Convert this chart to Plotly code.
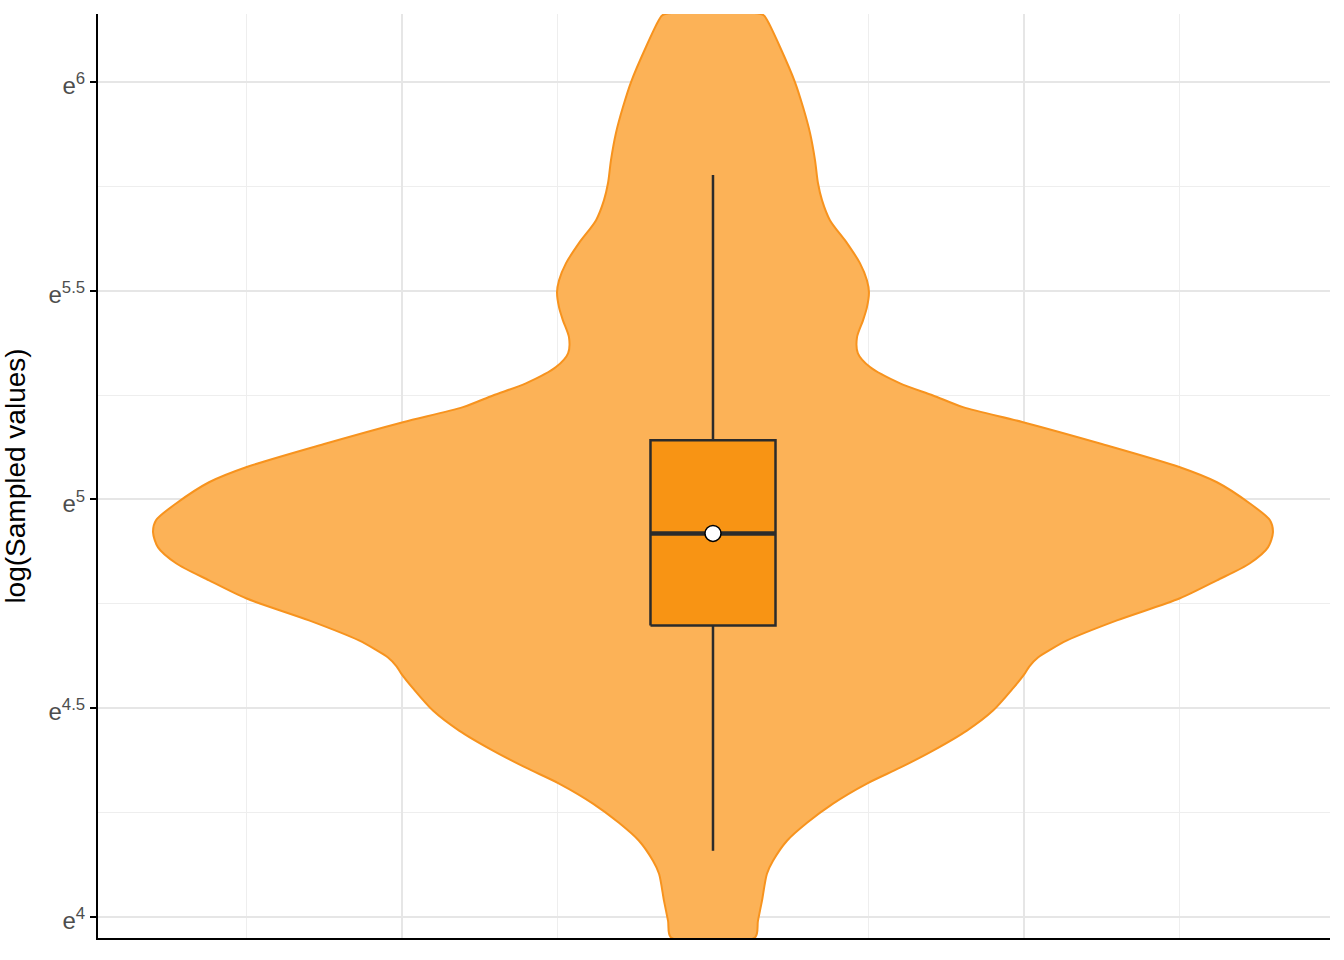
import plotly.graph_objects as go

# Violin outline: natural-log value and half-width (density, x units)
log_values = [6.161, 6.149, 6.084, 6.000, 5.940, 5.878, 5.813, 5.758, 5.717, 5.669,
              5.614, 5.566, 5.525, 5.496, 5.460, 5.429, 5.388, 5.350, 5.317, 5.278,
              5.249, 5.221, 5.185, 5.134, 5.077, 5.041, 4.990, 4.950, 4.921, 4.885,
              4.847, 4.806, 4.763, 4.710, 4.662, 4.640, 4.621, 4.600, 4.583, 4.547,
              4.494, 4.446, 4.398, 4.357, 4.319, 4.271, 4.225, 4.182, 4.134, 4.103,
              4.038, 3.990, 3.950]
density = [0.322, 0.347, 0.431, 0.527, 0.579, 0.624, 0.656, 0.675, 0.701, 0.752,
           0.862, 0.945, 0.990, 1.003, 0.990, 0.965, 0.926, 0.932, 1.010, 1.203,
           1.415, 1.608, 1.994, 2.489, 3.003, 3.241, 3.453, 3.582, 3.601, 3.569,
           3.453, 3.241, 3.003, 2.598, 2.277, 2.170, 2.090, 2.035, 2.006, 1.929,
           1.801, 1.633, 1.415, 1.203, 0.990, 0.772, 0.605, 0.476, 0.386, 0.347,
           0.315, 0.289, 0.270]

# Box statistics (natural-log units)
q1 = 4.698
median = 4.9185
q3 = 5.1415
lower_whisker = 4.158
upper_whisker = 5.777
mean_value = 4.9185

tick_vals = [4, 4.5, 5, 5.5, 6]
tick_text = ["e<sup>4</sup>", "e<sup>4.5</sup>", "e<sup>5</sup>", "e<sup>5.5</sup>", "e<sup>6</sup>"]

box_half = 0.402
box_line = "#2b2b2b"

fig = go.Figure()

# violin body (right side down, left side up)
vx = density + [-d for d in density[::-1]] + [density[0]]
vy = log_values + log_values[::-1] + [log_values[0]]
fig.add_trace(go.Scatter(
    x=vx, y=vy, mode="lines", fill="toself",
    fillcolor="#FCB257", line=dict(color="#F7931E", width=2, shape="spline", smoothing=0.8),
    hoverinfo="skip", showlegend=False,
))

# whiskers
fig.add_trace(go.Scatter(
    x=[0, 0, None, 0, 0], y=[q3, upper_whisker, None, lower_whisker, q1], mode="lines",
    line=dict(color=box_line, width=2.5), showlegend=False, hoverinfo="skip",
))

# box
fig.add_trace(go.Scatter(
    x=[-box_half, box_half, box_half, -box_half, -box_half],
    y=[q1, q1, q3, q3, q1], mode="lines", fill="toself",
    fillcolor="#F89414", line=dict(color=box_line, width=2.5),
    showlegend=False, hoverinfo="skip",
))

# median
fig.add_trace(go.Scatter(
    x=[-box_half, box_half], y=[median, median], mode="lines",
    line=dict(color=box_line, width=4.5), showlegend=False, hoverinfo="skip",
))

# mean
fig.add_trace(go.Scatter(
    x=[0], y=[mean_value], mode="markers",
    marker=dict(color="white", size=16, line=dict(color="black", width=1.5)),
    showlegend=False,
))

fig.update_layout(
    width=1344, height=960,
    margin=dict(l=98, r=14, t=14, b=22),
    paper_bgcolor="white", plot_bgcolor="white",
    font=dict(family="Liberation Sans, Arial, sans-serif"),
    xaxis=dict(
        range=[-3.955, 3.968], showticklabels=False, ticks="",
        tick0=0, dtick=2, showgrid=True, gridcolor="#e6e6e6", gridwidth=2,
        minor=dict(dtick=1, showgrid=True, gridcolor="#eeeeee", gridwidth=1),
        showline=True, linecolor="black", linewidth=2, zeroline=False,
    ),
    yaxis=dict(
        range=[3.949, 6.163], tickvals=tick_vals, ticktext=tick_text,
        ticks="outside", ticklen=6, tickwidth=2, tickcolor="black",
        tickfont=dict(size=24, color="#4d4d4d"), ticklabelshift=4,
        showgrid=True, gridcolor="#e6e6e6", gridwidth=2,
        minor=dict(tickvals=[4.25, 4.75, 5.25, 5.75], showgrid=True,
                   gridcolor="#eeeeee", gridwidth=1, ticks=""),
        showline=True, linecolor="black", linewidth=2, zeroline=False,
        title=dict(text="log(Sampled values)", font=dict(size=28, color="black"), standoff=15),
    ),
)

fig.write_html("out.html")
